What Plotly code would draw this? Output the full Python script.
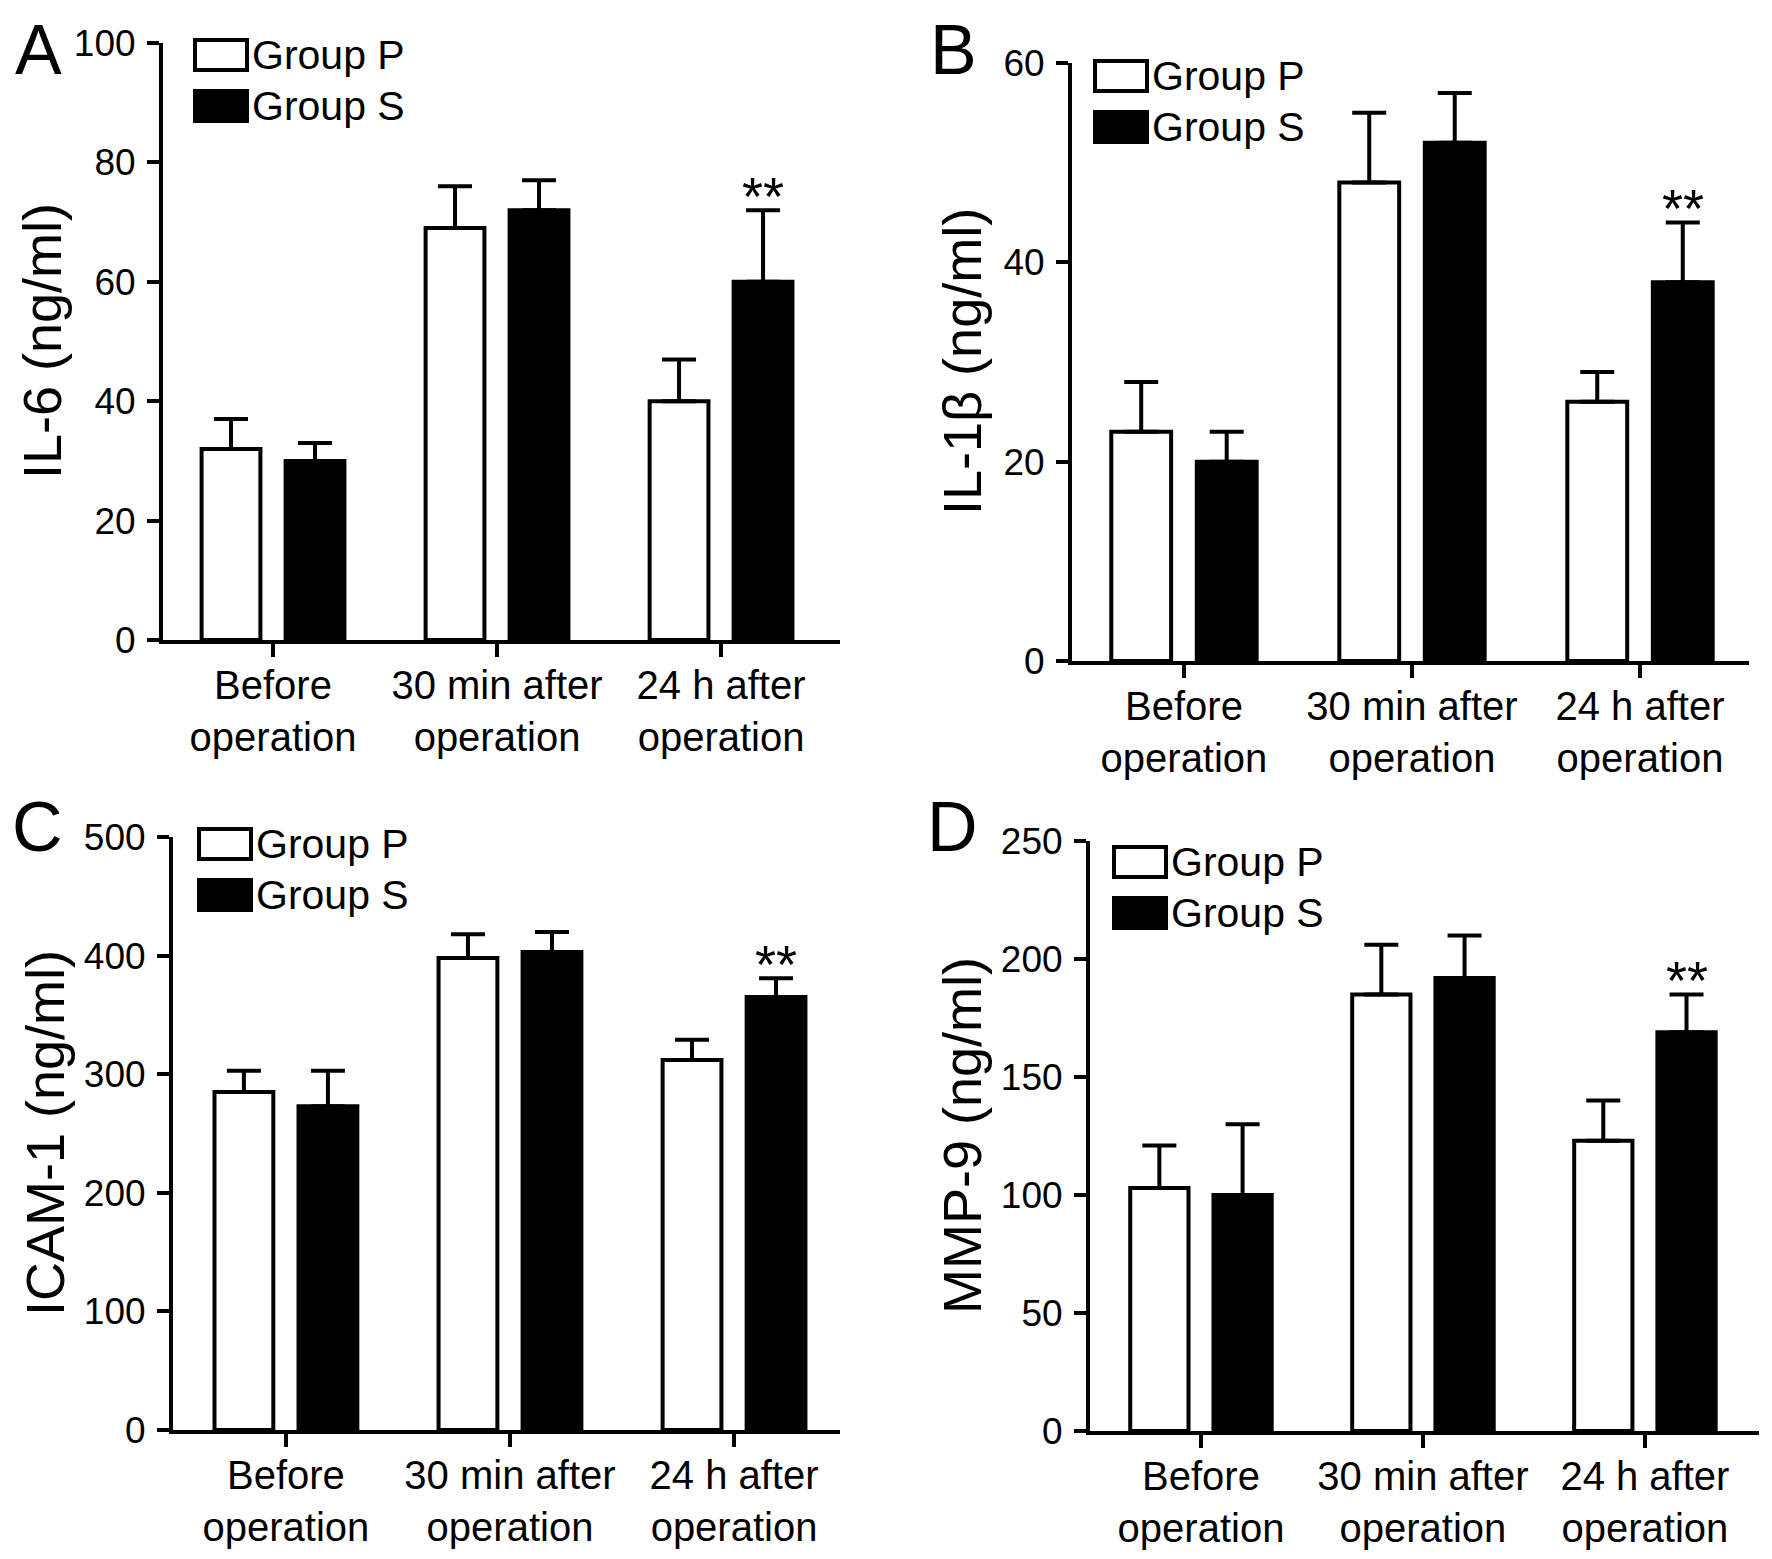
import plotly.graph_objects as go

W, H = 1772, 1559
OFF = 8  # 페이지 body 기본 여백
FONT = "Liberation Sans, Arial, Helvetica, sans-serif"

# 데이터
categories = ["Before<br>operation", "30 min after<br>operation", "24 h after<br>operation"]
groups = ["Group P", "Group S"]

il6_p = [32, 69, 40]
il6_p_err = [5, 7, 7]
il6_s = [30, 72, 60]
il6_s_err = [3, 5, 12]

il1b_p = [23, 48, 26]
il1b_p_err = [5, 7, 3]
il1b_s = [20, 52, 38]
il1b_s_err = [3, 5, 6]

icam_p = [285, 398, 312]
icam_p_err = [18, 20, 17]
icam_s = [273, 403, 365]
icam_s_err = [30, 17, 16]

mmp9_p = [103, 185, 123]
mmp9_p_err = [18, 21, 17]
mmp9_s = [100, 192, 169]
mmp9_s_err = [30, 18, 16]

y_titles = ["IL-6 (ng/ml)", "IL-1β (ng/ml)", "ICAM-1 (ng/ml)", "MMP-9 (ng/ml)"]
y_max = [100, 60, 500, 250]
y_dtick = [20, 20, 100, 50]
letters = ["A", "B", "C", "D"]
signif = ["**", "**", "**", "**"]

series = [
    (il6_p, il6_p_err, il6_s, il6_s_err),
    (il1b_p, il1b_p_err, il1b_s, il1b_s_err),
    (icam_p, icam_p_err, icam_s, icam_s_err),
    (mmp9_p, mmp9_p_err, mmp9_s, mmp9_s_err),
]

# 패널 위치 (화면 픽셀)
panels = [
    dict(left=163, right=840, top=43, bottom=640, xr=[-0.491, 2.531],
         leg=(195, 40), letter=(13, 9), title=(42, 341)),
    dict(left=1072, right=1749, top=63, bottom=661, xr=[-0.491, 2.478],
         leg=(1095, 61), letter=(928, 9), title=(962, 362)),
    dict(left=173, right=840, top=837, bottom=1430, xr=[-0.504, 2.473],
         leg=(199, 829), letter=(10, 786), title=(45, 1133)),
    dict(left=1090, right=1759, top=841, bottom=1431, xr=[-0.5, 2.514],
         leg=(1114, 847), letter=(925, 786), title=(962, 1136)),
]

FW, FH = W - OFF, H - 2 * OFF


def px_x(p):
    return (p - OFF) / FW


def px_y(p):
    return 1 - (p - OFF) / FH


fig = go.Figure()
shapes = []
annotations = []

for i, (p_vals, p_err, s_vals, s_err) in enumerate(series):
    n = "" if i == 0 else str(i + 1)
    pn = panels[i]
    for name, vals, err, color in [(groups[0], p_vals, p_err, "white"),
                                   (groups[1], s_vals, s_err, "black")]:
        fig.add_trace(go.Bar(
            x=categories,
            y=vals,
            name=name,
            showlegend=False,
            marker=dict(color=color, line=dict(color="black", width=4)),
            error_y=dict(type="data", array=err, arrayminus=[0] * len(err),
                         symmetric=False, color="black", thickness=4, width=17),
            xaxis="x" + n,
            yaxis="y" + n,
        ))

    fig.update_layout({
        "xaxis" + n: dict(
            domain=[px_x(pn["left"]), px_x(pn["right"])],
            anchor="y" + n,
            range=pn["xr"],
            automargin=False,
            showline=True, linecolor="black", linewidth=4,
            ticks="outside", ticklen=13, tickwidth=4, tickcolor="black",
            ticklabelstandoff=-6,
            tickfont=dict(size=40, color="black", family=FONT),
            showgrid=False, zeroline=False,
        ),
        "yaxis" + n: dict(
            domain=[px_y(pn["bottom"]), px_y(pn["top"])],
            anchor="x" + n,
            range=[0, y_max[i]],
            dtick=y_dtick[i],
            automargin=False,
            showline=True, linecolor="black", linewidth=4,
            ticks="outside", ticklen=12, tickwidth=4, tickcolor="black",
            ticklabelstandoff=4,
            tickfont=dict(size=37, color="black", family=FONT),
            showgrid=False, zeroline=False,
        ),
    })

    # 범례 (상자 + 글자)
    lx, ly = pn["leg"]
    for k, color in enumerate(["white", "black"]):
        y0 = ly + k * 51
        shapes.append(dict(type="rect", xref="paper", yref="paper",
                           x0=px_x(lx), x1=px_x(lx + 52),
                           y0=px_y(y0 + 30), y1=px_y(y0),
                           fillcolor=color, line=dict(color="black", width=4)))
        annotations.append(dict(text=groups[k], xref="paper", yref="paper",
                                x=px_x(lx + 55), y=px_y(y0 + 15),
                                xanchor="left", yanchor="middle", showarrow=False,
                                font=dict(size=41, color="black", family=FONT)))

    # 패널 글자
    annotations.append(dict(text=letters[i], xref="paper", yref="paper",
                            x=px_x(pn["letter"][0]), y=px_y(pn["letter"][1]),
                            xanchor="left", yanchor="top", showarrow=False,
                            font=dict(size=70, color="black", family=FONT)))

    # y축 제목
    annotations.append(dict(text=y_titles[i], xref="paper", yref="paper",
                            x=px_x(pn["title"][0]), y=px_y(pn["title"][1]),
                            xanchor="center", yanchor="middle", textangle=-90,
                            showarrow=False,
                            font=dict(size=54, color="black", family=FONT)))

    # 유의성 표시
    annotations.append(dict(text=signif[i], xref="x" + n, yref="y" + n,
                            x=2 + 0.1875, y=s_vals[2] + s_err[2],
                            xanchor="center", yanchor="bottom", yshift=-18,
                            showarrow=False,
                            font=dict(size=54, color="black", family=FONT)))

fig.update_layout(
    width=FW, height=FH,
    margin=dict(l=0, r=0, t=0, b=0),
    barmode="group",
    bargap=0.25,
    bargroupgap=0.3,
    plot_bgcolor="white",
    paper_bgcolor="white",
    font=dict(family=FONT, color="black"),
    shapes=shapes,
    annotations=annotations,
)

fig.write_html("out.html")
